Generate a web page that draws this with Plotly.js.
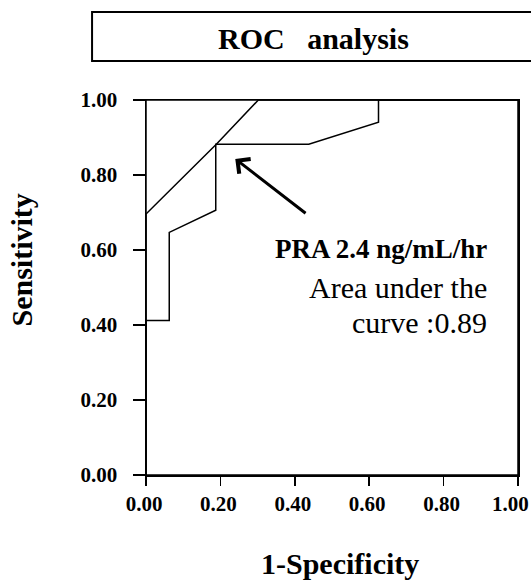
<!DOCTYPE html>
<html>
<head>
<meta charset="utf-8">
<script src="https://cdn.plot.ly/plotly-3.0.1.min.js"></script>
<style>html,body{margin:0;padding:0;background:#fff;}</style>
</head>
<body>
<div id="chart" style="width:531px;height:581px;"></div>
<script>
// ROC curve A (upper)
const curveA_x = [0, 0, 0.189, 0.302, 1];
const curveA_y = [0, 0.696, 0.882, 1.0, 1.0];
// ROC curve B (PRA, stepped)
const curveB_x = [0, 0, 0.0625, 0.0625, 0.1875, 0.1875, 0.4375, 0.625, 0.625, 1];
const curveB_y = [0, 0.412, 0.412, 0.647, 0.706, 0.882, 0.882, 0.941, 1.0, 1.0];
// ticks
const tickVals = [0, 0.2, 0.4, 0.6, 0.8, 1.0];
const tickText = ["0.00", "0.20", "0.40", "0.60", "0.80", "1.00"];
// texts
const chartTitle = "ROC\u00a0\u00a0\u00a0analysis";
const xTitle = "1-Specificity";
const yTitle = "Sensitivity";
const noteLines = ["PRA 2.4 ng/mL/hr", "Area under the", "curve :0.89"];
// arrow: head point and tail point in data units
const arrowHead = [0.240, 0.843];
const arrowTail = [0.433, 0.695];

const serif = "Liberation Serif";
const lastIdx = tickText.length - 1;

const traces = [
  {x: curveA_x, y: curveA_y, mode: "lines", line: {color: "#000", width: 1.5}, hoverinfo: "skip", showlegend: false},
  {x: curveB_x, y: curveB_y, mode: "lines", line: {color: "#000", width: 1.5}, hoverinfo: "skip", showlegend: false}
];

const tickFont = {family: serif, size: 21, color: "#000", weight: "bold"};
const axisCommon = {
  range: [0, 1], showgrid: false, zeroline: false,
  showline: true, mirror: true, linecolor: "#000", linewidth: 1.5,
  ticks: "outside", tickcolor: "#000", tickwidth: 1.5,
  tickvals: tickVals,
  tickfont: tickFont,
  ticklabeloverflow: "allow",
  fixedrange: true
};

const layout = {
  width: 531, height: 581,
  margin: {l: 146, r: 13, t: 100, b: 106, pad: 0},
  paper_bgcolor: "#fff", plot_bgcolor: "#fff",
  showlegend: false,
  font: {family: serif, color: "#000"},
  // last x label is drawn as an annotation nudged left so it stays inside the picture
  xaxis: Object.assign({}, axisCommon, {ticklen: 9, ticklabelstandoff: 0, ticklabelshift: -2,
    ticktext: tickText.map((t, i) => i === lastIdx ? "" : t)}),
  yaxis: Object.assign({}, axisCommon, {ticklen: 12, ticklabelstandoff: 11, ticktext: tickText}),
  shapes: [
    {type: "rect", xref: "paper", yref: "paper", x0: -0.145, x1: 1.06, y0: 1.104, y1: 1.2347,
     line: {color: "#000", width: 2}, fillcolor: "rgba(0,0,0,0)"},
    {type: "rect", xref: "paper", yref: "paper", x0: 0, x1: 1, y0: 0, y1: 1,
     line: {color: "#000", width: 1.5}, fillcolor: "rgba(0,0,0,0)"}
  ],
  annotations: [
    {xref: "x", yref: "paper", x: tickVals[lastIdx], y: 0, text: tickText[lastIdx], showarrow: false,
     xanchor: "center", yanchor: "top", xshift: -8, yshift: -15, font: tickFont},
    {xref: "paper", yref: "paper", x: 0.4516, y: 1.165, text: chartTitle, showarrow: false,
     xanchor: "center", yanchor: "middle", font: {family: serif, size: 30, color: "#000", weight: "bold"}},
    {xref: "paper", yref: "paper", x: 0.5215, y: -0.2347, text: xTitle, showarrow: false,
     xanchor: "center", yanchor: "middle", font: {family: serif, size: 30, color: "#000", weight: "bold"}},
    {xref: "paper", yref: "paper", x: -0.335, y: 0.573, text: yTitle, showarrow: false, textangle: -90,
     xanchor: "center", yanchor: "middle", font: {family: serif, size: 30, color: "#000", weight: "bold"}},
    {xref: "x", yref: "y", x: 0.922, y: 0.603, text: noteLines[0], showarrow: false,
     xanchor: "right", yanchor: "middle", font: {family: serif, size: 27, color: "#000", weight: "bold"}},
    {xref: "x", yref: "y", x: 0.922, y: 0.50, text: noteLines[1], showarrow: false,
     xanchor: "right", yanchor: "middle", font: {family: serif, size: 30, color: "#000"}},
    {xref: "x", yref: "y", x: 0.922, y: 0.407, text: noteLines[2], showarrow: false,
     xanchor: "right", yanchor: "middle", font: {family: serif, size: 30, color: "#000"}},
    {xref: "x", yref: "y", x: arrowHead[0], y: arrowHead[1], axref: "x", ayref: "y",
     ax: arrowTail[0], ay: arrowTail[1], text: "", showarrow: true,
     arrowhead: 4, arrowsize: 1.2, arrowwidth: 3, arrowcolor: "#000", standoff: 0}
  ]
};

Plotly.newPlot("chart", traces, layout, {staticPlot: true, displayModeBar: false});
</script>
</body>
</html>
